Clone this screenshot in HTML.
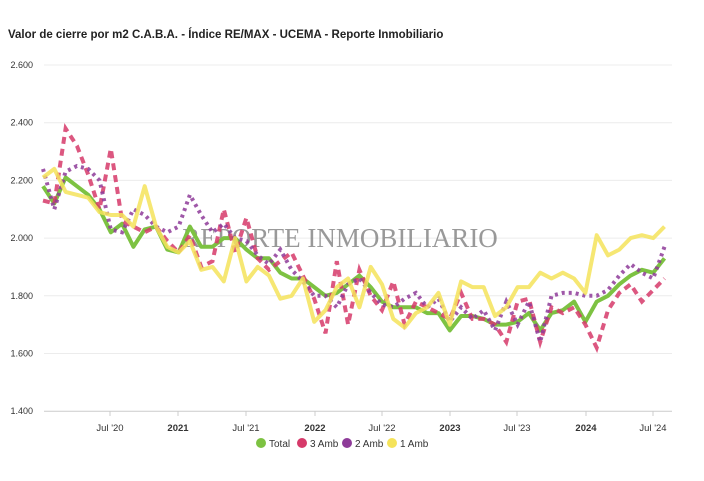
<!DOCTYPE html><html><head><style>body{margin:0;background:#fff;width:704px;height:476px;overflow:hidden}</style></head><body>
<svg id="s" width="704" height="476" xmlns="http://www.w3.org/2000/svg" font-family="Liberation Sans, sans-serif">
<text x="8" y="38" font-size="11.5" font-weight="bold" fill="#222">Valor de cierre por m2 C.A.B.A. - Índice RE/MAX - UCEMA - Reporte Inmobiliario</text>
<g id="grid"></g>
<text x="340" y="247" font-family="Liberation Serif, serif" font-size="27" fill="#888" text-anchor="middle" opacity="0.85">REPORTE INMOBILIARIO</text>
<g id="series"></g>
<g font-size="10" fill="#333">
<circle cx="261" cy="443" r="5" fill="#7dc242"/><text x="269" y="447">Total</text>
<circle cx="302" cy="443" r="5" fill="#d63a6a"/><text x="310" y="447">3 Amb</text>
<circle cx="347" cy="443" r="5" fill="#8e3b99"/><text x="355" y="447">2 Amb</text>
<circle cx="392" cy="443" r="5" fill="#f5e35a"/><text x="400" y="447">1 Amb</text>
</g>
</svg>
<script>
const Y=v=>65+(2600-v)*57.7/200, X=m=>43+m*11.3;
let g=document.getElementById('grid'),h='';
[2600,2400,2200,2000,1800,1600,1400].forEach(v=>{let y=Y(v);h+=`<line x1="44" x2="672" y1="${y}" y2="${y}" stroke="${v==1400?'#ccc':'#ececec'}"/><text x="33" y="${y+3}" font-size="9" text-anchor="end" fill="#333">${v.toLocaleString('de-DE')}</text>`});
[[110,"Jul '20",0],[178,"2021",1],[246,"Jul '21",0],[315,"2022",1],[382,"Jul '22",0],[450,"2023",1],[517,"Jul '23",0],[586,"2024",1],[653,"Jul '24",0]].forEach(t=>{h+=`<line x1="${t[0]}" x2="${t[0]}" y1="411" y2="416" stroke="#ccc"/><text x="${t[0]}" y="431" font-size="9.5" text-anchor="middle" fill="#333" ${t[2]?'font-weight="bold"':''}>${t[1]}</text>`});
g.innerHTML=h;
const tot=[2180,2120,2210,2180,2150,2100,2020,2050,1970,2030,2040,1960,1950,2040,1970,1970,2000,2000,1960,1930,1930,1880,1860,1860,1830,1800,1810,1840,1870,1830,1780,1760,1760,1760,1740,1740,1680,1730,1730,1720,1700,1700,1710,1740,1680,1740,1750,1780,1710,1780,1800,1840,1870,1890,1880,1930];
const a1=[2210,2240,2160,2150,2140,2090,2080,2080,2040,2180,2040,1970,1950,1990,1890,1900,1850,2000,1850,1900,1870,1790,1800,1860,1710,1750,1830,1860,1760,1900,1840,1720,1690,1740,1760,1810,1700,1850,1830,1830,1730,1760,1830,1830,1880,1860,1880,1860,1810,2010,1940,1960,2000,2010,2000,2040];
const a3=[2130,2120,2380,2320,2220,2100,2310,2060,2040,2020,2040,1990,1950,2010,1900,1920,2100,1950,2070,1930,1890,1920,1950,1870,1790,1670,1920,1700,1890,1800,1750,1850,1700,1780,1760,1740,1720,1810,1720,1720,1700,1640,1780,1790,1640,1760,1740,1760,1700,1620,1750,1810,1840,1780,1820,1860];
const a2=[2240,2100,2230,2250,2240,2200,2030,2020,2100,2080,2040,2020,2040,2150,2080,2020,2050,2000,1990,1940,1910,1960,1890,1850,1800,1800,1760,1840,1860,1810,1770,1760,1790,1810,1760,1790,1710,1760,1720,1750,1680,1780,1700,1780,1640,1800,1810,1810,1800,1800,1820,1870,1910,1880,1860,1970];
const pts=a=>a.map((v,i)=>X(i).toFixed(1)+','+Y(v).toFixed(1)).join(' ');
document.getElementById('series').innerHTML=
`<polyline points="${pts(tot)}" fill="none" stroke="#7dc242" stroke-width="4" stroke-linejoin="round"/>`+
`<polyline points="${pts(a3)}" fill="none" stroke="#d63a6a" stroke-width="4" stroke-dasharray="7,5" opacity="0.85"/>`+
`<polyline points="${pts(a2)}" fill="none" stroke="#8e3b99" stroke-width="4" stroke-dasharray="3,4" opacity="0.85"/>`+
`<polyline points="${pts(a1)}" fill="none" stroke="#f5e35a" stroke-width="4" stroke-linejoin="round" opacity="0.85"/>`;
</script>
</body></html>
